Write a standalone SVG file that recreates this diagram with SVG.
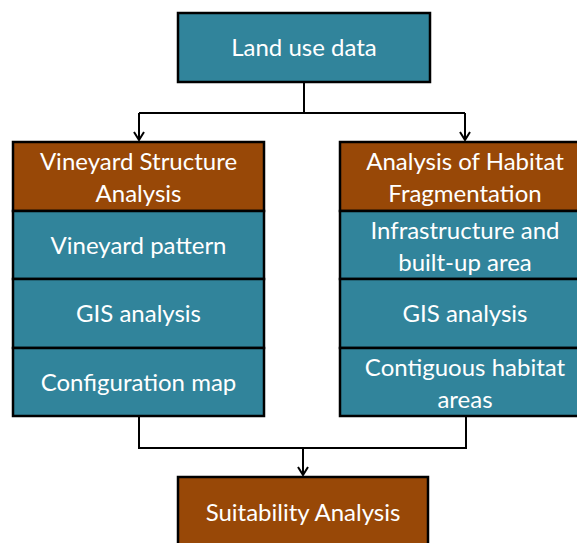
<svg xmlns="http://www.w3.org/2000/svg" width="577" height="543" viewBox="0 0 577 543">
<defs>
<marker id="arr" viewBox="0 0 12 12" refX="11" refY="6" markerWidth="12" markerHeight="12" markerUnits="userSpaceOnUse" orient="auto">
<path d="M3,1 L11,6 L3,11" fill="none" stroke="#000" stroke-width="2"/>
</marker>
<style>
.t{fill:#31849B;stroke:#000;stroke-width:2.5}
.o{fill:#984807;stroke:#000;stroke-width:2.5}
.l{fill:none;stroke:#000;stroke-width:2}
text{font-family:"Lato","Liberation Sans",sans-serif;font-size:24px;fill:#fff;text-anchor:middle}
</style>
</defs>
<rect width="577" height="543" fill="#fff"/>
<g id="connectors">
<path class="l" d="M304,82 V113 M139,113 H465"/>
<path class="l" d="M139,113 V140" marker-end="url(#arr)"/>
<path class="l" d="M465,113 V140" marker-end="url(#arr)"/>
<path class="l" d="M139,416 V448 H466 V416"/>
<path class="l" d="M303,448 V475" marker-end="url(#arr)"/>
</g>
<g id="land-use-data">
<rect class="t" x="178" y="13" width="252" height="69"/>
<text x="304" y="56">Land use data</text>
</g>
<g id="vineyard-structure-analysis">
<rect class="o" x="13" y="142" width="251" height="69"/>
<text x="138.5" y="170">Vineyard Structure</text>
<text x="138.5" y="202">Analysis</text>
</g>
<g id="vineyard-pattern">
<rect class="t" x="13" y="211" width="251" height="68"/>
<text x="138.5" y="254">Vineyard pattern</text>
</g>
<g id="gis-analysis-left">
<rect class="t" x="13" y="279" width="251" height="69"/>
<text x="138.5" y="322">GIS analysis</text>
</g>
<g id="configuration-map">
<rect class="t" x="13" y="348" width="251" height="68"/>
<text x="138.5" y="391">Configuration map</text>
</g>
<g id="habitat-fragmentation">
<rect class="o" x="340" y="142" width="250" height="69"/>
<text x="465" y="170">Analysis of Habitat</text>
<text x="465" y="202">Fragmentation</text>
</g>
<g id="infrastructure">
<rect class="t" x="340" y="211" width="250" height="68"/>
<text x="465" y="239">Infrastructure and</text>
<text x="465" y="271">built-up area</text>
</g>
<g id="gis-analysis-right">
<rect class="t" x="340" y="279" width="250" height="69"/>
<text x="465" y="322">GIS analysis</text>
</g>
<g id="contiguous-habitat">
<rect class="t" x="340" y="348" width="250" height="68"/>
<text x="465" y="376">Contiguous habitat</text>
<text x="465" y="408">areas</text>
</g>
<g id="suitability-analysis">
<rect class="o" x="178" y="477" width="250" height="80"/>
<text x="303" y="521">Suitability Analysis</text>
</g>
</svg>
